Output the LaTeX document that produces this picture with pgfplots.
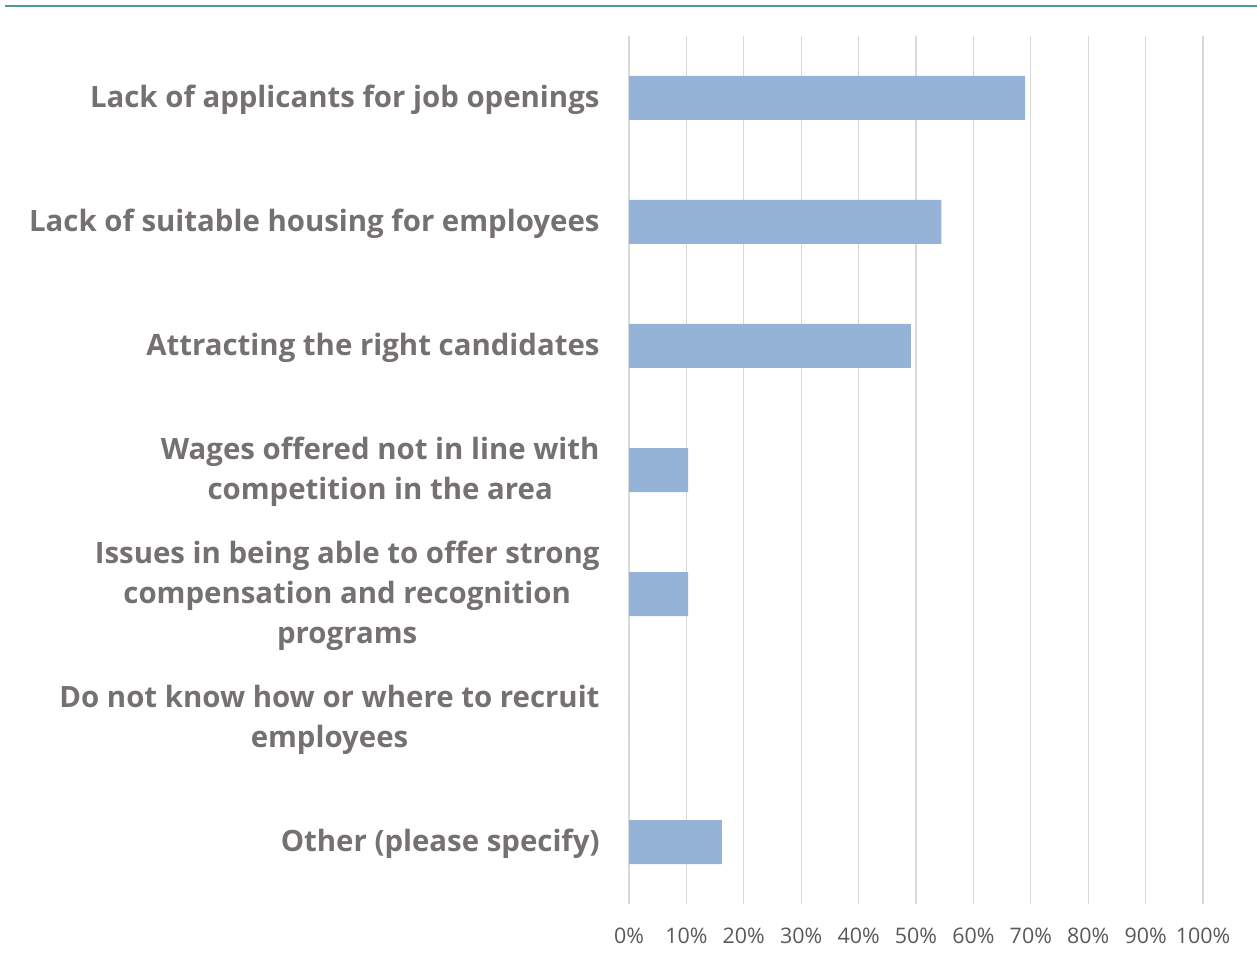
\documentclass[border=0pt]{standalone}
\usepackage{pgfplots}
\pgfplotsset{compat=1.18}
\usepackage{fontspec}
\setmainfont{Open Sans}
\definecolor{barc}{HTML}{95B3D7}
\definecolor{gridc}{HTML}{D9D9D9}
\definecolor{labc}{HTML}{767171}
\definecolor{tickc}{HTML}{595959}
\definecolor{topc}{HTML}{4E9A92}
\begin{document}
\begin{tikzpicture}[x=1bp,y=1bp]
\useasboundingbox (0,0) rectangle (1257,963);
\draw[topc, line width=1.5bp] (5,957) -- (1257,957);
\begin{axis}[
  at={(629bp,59bp)}, anchor=south west,
  scale only axis, width=574bp, height=868bp,
  xmin=0, xmax=100, ymin=-0.5, ymax=6.5, y dir=reverse,
  xbar, bar width=44bp,
  xtick={0,10,...,100},
  xticklabels={0\%,10\%,20\%,30\%,40\%,50\%,60\%,70\%,80\%,90\%,100\%},
  ytick={0,1,2,3,4,5,6},
  yticklabels={{Lack of applicants for job openings},
    {Lack of suitable housing for employees},
    {Attracting the right candidates},
    {Wages offered not in line with\\competition in the area},
    {Issues in being able to offer strong\\compensation and recognition\\programs},
    {Do not know how or where to recruit\\employees},
    {Other (please specify)}},
  yticklabel style={font=\fontsize{29.5}{40}\selectfont\bfseries, text=labc, align=center, anchor=east, inner sep=0pt, xshift=-25bp, yshift=-2bp},
  xticklabel style={font=\fontsize{21.5}{24}\selectfont, text=tickc, anchor=base, inner sep=0pt, yshift=-39bp},
  axis line style={draw=none},
  tick style={draw=none},
  xmajorgrids, major grid style={draw=gridc, line width=1.3bp},
]
\addplot[fill=barc, draw=none] coordinates {(69.0,0) (54.4,1) (49.1,2) (10.3,3) (10.3,4) (0,5) (16.2,6)};
\end{axis}
\end{tikzpicture}
\end{document}
